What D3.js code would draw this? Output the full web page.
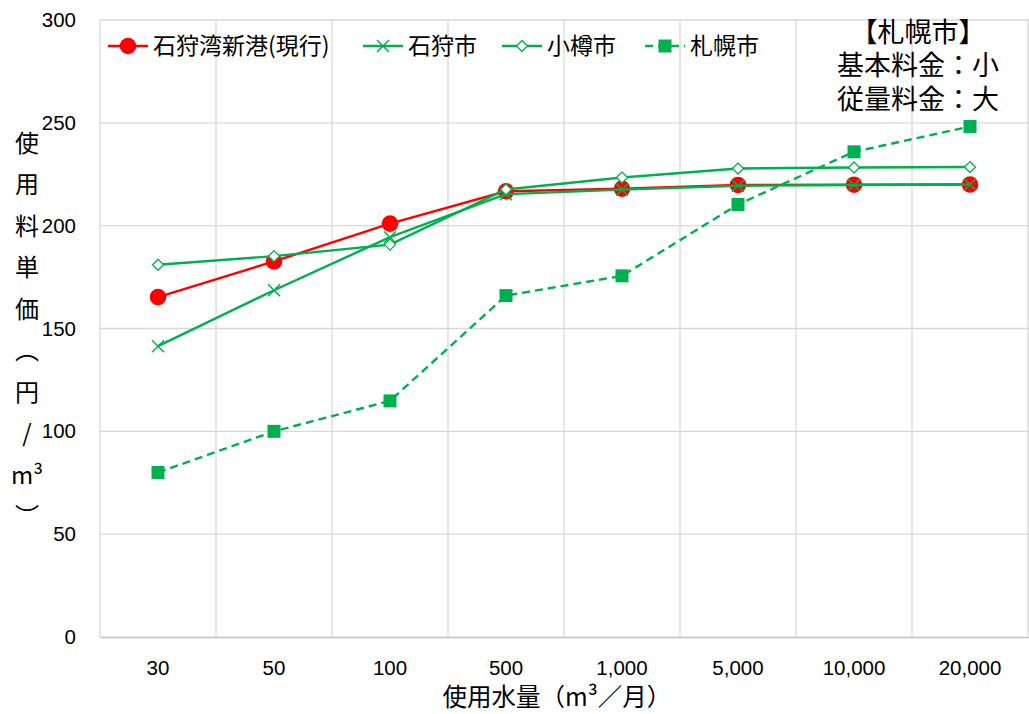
<!DOCTYPE html>
<html>
<head>
<meta charset="utf-8">
<script src="https://cdn.jsdelivr.net/npm/d3@7/dist/d3.min.js"></script>
<style>
  html, body { margin: 0; padding: 0; background: #fff; }
  svg { display: block; }
  .num { font-family: "Liberation Sans", Arial, sans-serif; font-size: 20.5px; fill: #000; }
  .jp { font-family: "Noto Sans CJK JP", sans-serif; fill: #000; }
</style>
</head>
<body>
<svg id="chart" width="1029" height="714"></svg>
<script>
// Monthly usage volume categories (m³/month)
const categories = ["30", "50", "100", "500", "1,000", "5,000", "10,000", "20,000"];

// Unit charge (yen per m³) for each water supplier
const ishikariBay = [165.3, 182.6, 201, 216.7, 218, 219.8, 219.9, 220];
const ishikariCity = [141.4, 168.6, 194.4, 215.3, 217.5, 219.4, 219.8, 220];
const otaruCity = [181, 185.2, 190.8, 217.6, 223.4, 227.8, 228.3, 228.5];
const sapporoCity = [80, 100, 114.8, 166, 175.6, 210.3, 235.9, 248.2];

const yTicks = [0, 50, 100, 150, 200, 250, 300];

const seriesNames = ["石狩湾新港(現行)", "石狩市", "小樽市", "札幌市"];
const noteLines = ["【札幌市】", "基本料金：小", "従量料金：大"];
const yTitleChars = ["使", "用", "料", "単", "価", "︵", "円", "/", "m³", "︶"];
const xTitle = "使用水量（m³／月）";

const RED = "#FF0000", GREEN = "#00B050", GRID = "#D9D9D9";

const svg = d3.select("#chart");
const x = d3.scaleBand().domain(categories).range([100, 1028]);
const y = d3.scaleLinear().domain([0, 300]).range([637, 20]);

// Gridlines
const grid = svg.append("g");
grid.selectAll("line.h").data(yTicks.filter(t => t > 0)).join("line")
  .attr("x1", 100).attr("x2", 1029)
  .attr("y1", d => y(d)).attr("y2", d => y(d))
  .attr("stroke", GRID).attr("stroke-width", 1.3);
grid.selectAll("line.v").data(categories.concat(["end"])).join("line")
  .attr("x1", (d, i) => 100 + i * x.bandwidth())
  .attr("x2", (d, i) => 100 + i * x.bandwidth())
  .attr("y1", y(300)).attr("y2", y(0))
  .attr("stroke", GRID).attr("stroke-width", 1.3);

// Axes
const yAxis = svg.append("g").attr("transform", "translate(100,0)")
  .call(d3.axisLeft(y).tickValues(yTicks).tickSize(0).tickPadding(24));
yAxis.select(".domain").remove();
yAxis.selectAll("text").attr("class", "num").attr("font-family", null).attr("font-size", null);

const xAxis = svg.append("g").attr("transform", `translate(0,${y(0)})`)
  .call(d3.axisBottom(x).tickSize(0).tickPadding(23));
xAxis.select(".domain").attr("stroke", "#BFBFBF").attr("stroke-width", 1.3);
xAxis.selectAll("text").attr("class", "num").attr("font-family", null).attr("font-size", null);

// Series definitions
const series = [
  { name: seriesNames[0], values: ishikariBay, color: RED, marker: "circle", dash: null },
  { name: seriesNames[1], values: ishikariCity, color: GREEN, marker: "cross", dash: null },
  { name: seriesNames[2], values: otaruCity, color: GREEN, marker: "diamond", dash: null },
  { name: seriesNames[3], values: sapporoCity, color: GREEN, marker: "square", dash: "8,5" }
];

function drawMarker(g, type, color, cx, cy) {
  if (type === "circle") {
    g.append("circle").attr("cx", cx).attr("cy", cy).attr("r", 8.3).attr("fill", color);
  } else if (type === "cross") {
    const s = 6;
    g.append("path")
      .attr("d", `M${cx - s},${cy - s}L${cx + s},${cy + s}M${cx - s},${cy + s}L${cx + s},${cy - s}`)
      .attr("stroke", color).attr("stroke-width", 1.5).attr("fill", "none");
  } else if (type === "diamond") {
    const s = 5.5;
    g.append("path")
      .attr("d", `M${cx},${cy - s}L${cx + s},${cy}L${cx},${cy + s}L${cx - s},${cy}Z`)
      .attr("stroke", color).attr("stroke-width", 1.3).attr("fill", "#fff");
  } else if (type === "square") {
    const s = 6.5;
    g.append("rect").attr("x", cx - s).attr("y", cy - s)
      .attr("width", 2 * s).attr("height", 2 * s).attr("fill", color);
  }
}

const line = d3.line()
  .x((d, i) => x(categories[i]) + x.bandwidth() / 2)
  .y(d => y(d));

series.forEach(s => {
  const g = svg.append("g");
  g.append("path").datum(s.values)
    .attr("d", line)
    .attr("fill", "none")
    .attr("stroke", s.color)
    .attr("stroke-width", 2.4)
    .attr("stroke-dasharray", s.dash);
  s.values.forEach((v, i) => {
    drawMarker(g, s.marker, s.color, x(categories[i]) + x.bandwidth() / 2, y(v));
  });
});

// Legend
const legendX = [108, 363, 502, 645];
const legend = svg.append("g");
series.forEach((s, i) => {
  const lx = legendX[i], ly = 46;
  legend.append("line").attr("x1", lx).attr("x2", lx + 40)
    .attr("y1", ly).attr("y2", ly)
    .attr("stroke", s.color).attr("stroke-width", 2.4)
    .attr("stroke-dasharray", s.dash);
  drawMarker(legend, s.marker, s.color, lx + 20, ly);
  legend.append("text").attr("class", "jp")
    .attr("x", lx + 45).attr("y", ly).attr("dy", "0.36em")
    .attr("font-size", 23).text(s.name);
});

// Note block: one text element, three tightly spaced lines
const note = svg.append("text").attr("class", "jp")
  .attr("text-anchor", "middle").attr("font-size", 27);
note.selectAll("tspan").data(noteLines).join("tspan")
  .attr("x", 918)
  .attr("y", (d, i) => 32 + i * 33.5)
  .attr("dy", "0.36em")
  .text(d => d);

// Y axis title (stacked vertically)
svg.append("g").selectAll("text").data(yTitleChars).join("text")
  .attr("class", "jp")
  .attr("x", 27).attr("y", (d, i) => 143 + i * 41.5).attr("dy", "0.36em")
  .attr("text-anchor", "middle").attr("font-size", 24)
  .text(d => d);

// X axis title
svg.append("text").attr("class", "jp")
  .attr("x", 557).attr("y", 697).attr("dy", "0.36em")
  .attr("text-anchor", "middle").attr("font-size", 24.5)
  .text(xTitle);
</script>
</body>
</html>
